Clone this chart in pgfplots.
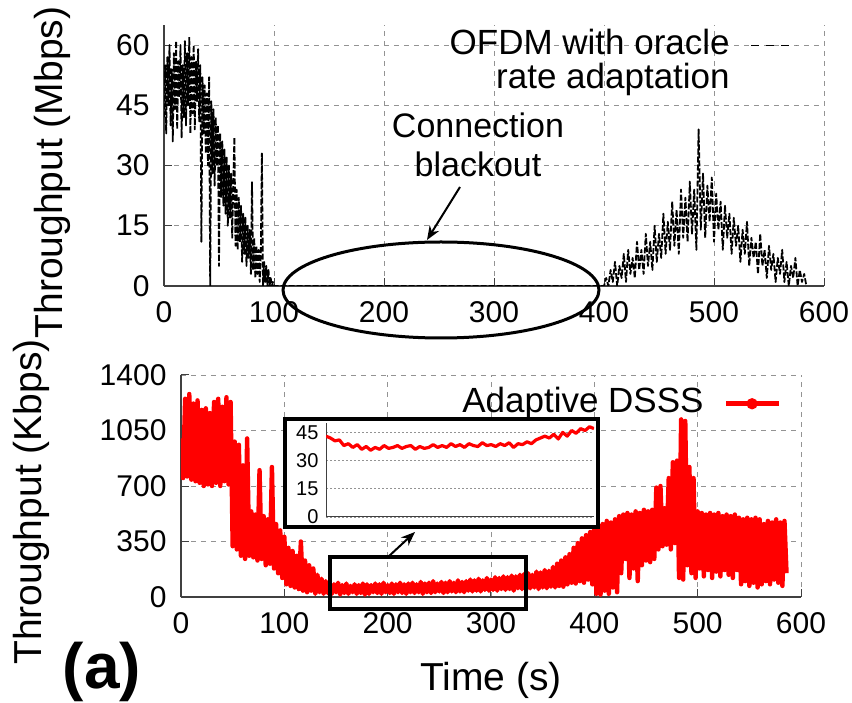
\documentclass[border=0pt]{standalone}
\usepackage{pgfplots}
\pgfplotsset{compat=1.18}
\usepackage{fontspec}
\setmainfont{Liberation Sans}
\usetikzlibrary{arrows.meta}

\pgfplotsset{
  chart/.style={
    scale only axis, anchor=south west,
    axis x line*=bottom, axis y line*=left,
    axis line style={-, line width=1.2pt, black!75},
    grid=major,
    grid style={dash pattern=on 5pt off 5pt, line width=0.9pt, gray!85},
    tick align=inside, major tick length=8pt,
    tick style={line width=1pt, black!75},
    /pgf/number format/assume math mode=true,
    /pgf/number format/1000 sep={},
    scaled ticks=false,
    tick label style={font=\fontsize{30}{30}\selectfont},
    label style={font=\fontsize{39}{39}\selectfont},
    legend plot pos=right, legend cell align=right,
  }
}

\begin{document}
\begin{tikzpicture}
\useasboundingbox (0pt,0pt) rectangle (852pt,702pt);

% ---- top: OFDM throughput (Mbps)
\begin{axis}[chart,
  at={(164pt,416pt)}, width=660pt, height=261pt,
  xmin=0, xmax=600, ymin=0, ymax=65,
  xtick={0,100,...,600}, ytick={0,15,...,60},
  xticklabel style={yshift=-12pt}, yticklabel style={xshift=-11pt},
  ylabel={Throughput (Mbps)},
  ylabel style={at={(axis description cs:-0.169,0.435)}, anchor=center},
  legend style={at={(axis description cs:0.959,0.987)}, anchor=north east,
    draw=none, fill=none, inner sep=0pt, column sep=20pt,
    font=\fontsize{35}{35}\selectfont,
    nodes={inner sep=1pt, text height=25pt, text depth=7pt}},
  legend image code/.code={\draw[#1] (0pt,0pt) -- (45pt,0pt);},
]
\addplot[black, line width=1.8pt, dash pattern=on 6pt off 2pt, line join=round, forget plot] coordinates {
(0,42) (1,55) (2,38) (3,57) (4,45) (5,60) (6,40) (7,54) (8,36) (9,58)
(10,44) (11,61) (12,39) (13,56) (14,47) (15,60) (16,37) (17,55) (18,42) (19,61)
(20,40) (21,58) (22,45) (23,62) (24,38) (25,57) (26,43) (27,60) (28,39) (29,56)
(30,46) (31,59) (32,41) (33,55) (34,11) (35,52) (36,38) (37,50) (38,33) (39,48)
(40,30) (41,52) (42,0) (43,46) (44,28) (45,44) (46,25) (47,42) (48,30) (49,40)
(50,5) (51,38) (52,22) (53,36) (54,20) (55,34) (56,18) (57,32) (58,15) (59,30)
(60,17) (61,28) (62,12) (63,26) (64,37) (65,10) (66,24) (67,9) (68,22) (69,11)
(70,20) (71,6) (72,18) (73,8) (74,17) (75,5) (76,15) (77,7) (78,14) (79,3)
(80,26) (81,4) (82,12) (83,2) (84,10) (85,3) (86,9) (87,1) (88,8) (89,33)
(90,0) (91,6) (92,1) (93,5) (94,0) (95,4) (96,0) (97,2) (98,0) (99,1)
(100,0) (250,0) (400,0)
(402,2) (404,0) (406,4) (408,1) (410,6) (412,0) (414,5) (416,2) (418,8)
(420,1) (422,9) (424,3) (426,7) (428,2) (430,11) (432,4) (434,9) (436,3) (438,13)
(440,5) (442,11) (444,4) (446,15) (448,6) (450,13) (452,7) (454,18) (456,8) (458,16)
(460,9) (462,21) (464,10) (466,19) (468,8) (470,24) (472,12) (474,22) (476,11) (478,26)
(480,13) (482,24) (484,9) (486,39) (488,14) (490,28) (492,12) (494,25) (496,16) (498,27)
(500,11) (502,23) (504,14) (506,21) (508,9) (510,20) (512,12) (514,18) (516,8) (518,17)
(520,10) (522,15) (524,6) (526,14) (528,8) (530,16) (532,5) (534,12) (536,7) (538,11)
(540,3) (542,13) (544,5) (546,9) (548,2) (550,10) (552,4) (554,8) (556,1) (558,7)
(560,3) (562,9) (564,1) (566,6) (568,0) (570,5) (572,2) (574,7) (576,0) (578,4)
(580,1) (582,3) (584,0)
};
\addlegendimage{black, line width=1pt, dash pattern=on 8pt off 7pt}
\addlegendentry{OFDM with oracle}
\addlegendimage{empty legend}
\addlegendentry{rate adaptation}
\end{axis}

% ---- bottom: Adaptive DSSS throughput (Kbps)
\begin{axis}[chart,
  at={(181pt,105pt)}, width=620pt, height=222pt,
  xmin=0, xmax=600, ymin=0, ymax=1400,
  xtick={0,100,...,600}, ytick={0,350,700,1050,1400},
  xticklabel style={yshift=-12pt}, yticklabel style={xshift=-11pt},
  xlabel={Time (s)},
  xlabel style={at={(axis description cs:0.5,-0.374)}, anchor=center},
  ylabel={Throughput (Kbps)},
  ylabel style={at={(axis description cs:-0.242,0.428)}, anchor=center},
  legend style={at={(axis description cs:0.969,0.948)}, anchor=north east,
    draw=none, fill=none, inner sep=0pt, column sep=19pt,
    font=\fontsize{35}{35}\selectfont,
    nodes={inner sep=1pt, text height=25pt, text depth=7pt}},
  legend image code/.code={\draw[#1, mark=none] (0pt,0pt) -- (53pt,0pt);
    \draw[#1] plot coordinates {(26pt,0pt)};},
]
\addplot[red, line width=4.4pt, line join=round, forget plot] coordinates {
(0,1000) (2,750) (4,1250) (6,760) (8,1280) (10,740) (12,1220) (14,730) (16,1240) (18,720)
(20,1180) (22,700) (24,1190) (26,710) (28,1160) (30,700) (32,1230) (34,720) (36,1250) (38,700)
(40,1200) (42,730) (44,1260) (46,710) (48,1230) (50,320) (52,980) (54,300) (56,960) (58,260)
(60,830) (62,240) (64,1000) (66,260) (68,540) (70,250) (72,520) (74,230) (76,800) (78,240)
(80,510) (82,200) (84,490) (86,210) (88,820) (90,180) (92,460) (94,150) (96,420) (98,120)
(100,380) (102,80) (104,310) (106,70) (108,290) (110,60) (112,260) (114,50) (116,350) (118,40)
(120,230) (122,30) (124,200) (126,40) (128,180) (130,20) (132,140) (134,30) (136,115) (138,20)
(140,100) (142,25) (144,85) (146,20) (148,80) (150,30) (152,90) (154,15) (156,75) (158,25)
(160,85) (162,20) (164,70) (166,30) (168,80) (170,20) (172,75) (174,25) (176,85) (178,15)
(180,80) (182,20) (184,75) (186,30) (188,85) (190,25) (192,80) (194,20) (196,90) (198,30)
(200,75) (202,25) (204,85) (206,20) (208,80) (210,30) (212,90) (214,25) (216,80) (218,20)
(220,85) (222,30) (224,90) (226,25) (228,80) (230,30) (232,95) (234,20) (236,85) (238,30)
(240,90) (242,25) (244,100) (246,30) (248,85) (250,35) (252,95) (254,25) (256,90) (258,30)
(260,100) (262,35) (264,90) (266,30) (268,105) (270,35) (272,95) (274,30) (276,100) (278,40)
(280,110) (282,35) (284,105) (286,40) (288,115) (290,35) (292,105) (294,45) (296,120) (298,40)
(300,110) (302,45) (304,125) (306,40) (308,120) (310,50) (312,130) (314,45) (316,125) (318,50)
(320,135) (322,40) (324,130) (326,55) (328,140) (330,50) (332,145) (334,45) (336,150) (338,55)
(340,140) (342,60) (344,160) (346,50) (348,155) (350,60) (352,170) (354,55) (356,165) (358,65)
(360,190) (362,60) (364,210) (366,70) (368,230) (370,65) (372,250) (374,80) (376,270) (378,90)
(380,310) (382,85) (384,340) (386,100) (388,370) (390,90) (392,390) (394,110) (396,410) (398,80)
(400,470) (402,20) (404,450) (406,15) (408,460) (410,40) (412,480) (414,20) (416,470) (418,60)
(420,490) (422,30) (424,510) (426,150) (428,520) (430,240) (432,530) (434,120) (436,520) (438,180)
(440,540) (442,100) (444,530) (446,200) (448,550) (450,230) (452,540) (454,220) (456,550) (458,240)
(460,690) (462,300) (464,700) (466,320) (468,560) (470,330) (472,750) (474,300) (476,850) (478,340)
(480,860) (482,120) (484,1120) (486,110) (488,1110) (490,200) (492,820) (494,150) (496,750) (498,120)
(500,540) (502,180) (504,530) (506,130) (508,520) (510,170) (512,530) (514,120) (516,520) (518,160)
(520,530) (522,130) (524,510) (526,170) (528,520) (530,140) (532,510) (534,120) (536,520) (538,170)
(540,500) (542,80) (544,490) (546,100) (548,500) (550,70) (552,490) (554,90) (556,500) (558,60)
(560,490) (562,80) (564,460) (566,100) (568,480) (570,80) (572,470) (574,110) (576,490) (578,90)
(580,470) (582,70) (584,480) (586,150)
};
\addlegendimage{red, line width=5pt, mark=*, mark size=3pt}
\addlegendentry{Adaptive DSSS}
\end{axis}

% inset frame (white, thick border)
\fill[white, draw=black, line width=4pt] (285pt,283pt) rectangle (598pt,175pt);

% ---- inset: zoom of 150-330 s
\begin{axis}[chart,
  at={(326pt,185pt)}, width=268pt, height=94pt,
  xmin=150, xmax=330, ymin=0, ymax=50,
  xtick=\empty, ytick={0,15,30,45},
  tick label style={font=\fontsize{20}{20}\selectfont},
  yticklabel style={xshift=-4pt},
  axis line style={line width=1pt},
  grid style={dash pattern=on 2pt off 2pt, line width=0.7pt, gray!85},
  major tick length=0pt,
]
\addplot[red, line width=3.2pt, line join=round] coordinates {
(150,43) (153,42) (156,40.5) (159,41) (162,38) (165,39) (168,37) (171,38.5) (174,36) (177,37.5)
(180,35.5) (183,37) (186,36) (189,38) (192,36.5) (195,37) (198,38) (201,36.5) (204,37.5) (207,38)
(210,36) (213,37.5) (216,36.5) (219,37) (222,38.5) (225,37) (228,38) (231,37) (234,39) (237,37.5)
(240,38.5) (243,37) (246,39) (249,38) (252,37.5) (255,39.5) (258,38) (261,38.5) (264,37.5) (267,39)
(270,38) (273,39.5) (276,37) (279,39) (282,38.5) (285,40) (288,39) (291,41) (294,42) (297,43)
(300,42) (303,44) (306,41.5) (309,45) (312,43) (315,46) (318,44.5) (321,47) (324,46) (327,48)
(330,47)
};
\end{axis}

% annotations
\draw[line width=4pt] (330pt,145pt) rectangle (526pt,93pt);
\draw[line width=2pt, -{Stealth[length=14pt, width=11pt]}] (388pt,145pt) -- (415pt,170pt);
\draw[line width=3pt] (441pt,412pt) ellipse (158pt and 48pt);
\draw[line width=2pt, -{Stealth[length=14pt, width=11pt]}] (460pt,515pt) -- (427pt,462pt);
\node[align=center, font=\fontsize{34}{39}\selectfont] at (478pt,557pt) {Connection\\blackout};
\node[font=\fontsize{64}{64}\selectfont\bfseries] at (102pt,30pt) {(a)};
\end{tikzpicture}
\end{document}
